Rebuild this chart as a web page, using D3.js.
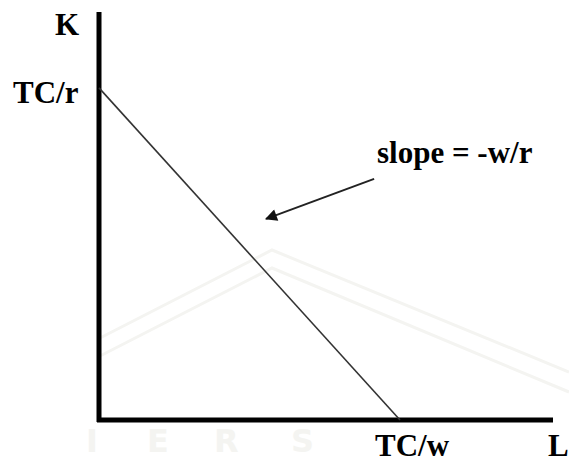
<!DOCTYPE html>
<html>
<head>
<meta charset="utf-8">
<script src="https://cdn.jsdelivr.net/npm/d3@7"></script>
<style>
  body { margin: 0; background: #fff; }
  text { font-family: "Liberation Serif", "Times New Roman", serif; font-weight: bold; fill: #000; }
</style>
</head>
<body>
<div id="chart"></div>
<script>
// isocost line: K intercept TC/r, L intercept TC/w
const axisMax = [10, 10];          // [L, K]
const intercepts = [6.63, 8.14];   // [TC/w, TC/r]
const arrowFrom = [6.06, 5.91];
const arrowTo = [3.68, 4.93];
const labels = ["K", "TC/r", "TC/w", "L", "slope = -w/r"];
const watermark = ["I", "E", "R", "S"];

const width = 569, height = 462;

const svg = d3.select("#chart")
    .append("svg")
    .attr("width", width)
    .attr("height", height);

const x = d3.scaleLinear().domain([0, axisMax[0]]).range([99, 553]);
const y = d3.scaleLinear().domain([0, axisMax[1]]).range([420, 12]);

// very faint watermark
const wm = svg.append("g").attr("fill", "none").attr("stroke", "#f4f4f1").attr("stroke-width", 3);
wm.append("path").attr("d", "M100,338 L272,250 L569,372");
wm.append("path").attr("d", "M100,356 L272,268 L569,392");
svg.append("g").selectAll("text")
    .data(watermark)
    .join("text")
    .attr("x", (d, i) => [86, 147, 214, 291][i])
    .attr("y", 452)
    .style("font-family", "'DejaVu Sans', sans-serif")
    .style("font-size", "32px")
    .style("fill", "#f4f4f1")
    .text(d => d);

// axes
svg.append("line")
    .attr("x1", x(0)).attr("y1", y(axisMax[1]))
    .attr("x2", x(0)).attr("y2", y(0) + 2)
    .attr("stroke", "#000").attr("stroke-width", 5);
svg.append("line")
    .attr("x1", x(0) - 2).attr("y1", y(0))
    .attr("x2", x(axisMax[0])).attr("y2", y(0))
    .attr("stroke", "#000").attr("stroke-width", 5);

// budget line
const line = d3.line().x(d => x(d[0])).y(d => y(d[1]));
svg.append("path")
    .attr("d", line([[0, intercepts[1]], [intercepts[0], 0]]))
    .attr("fill", "none")
    .attr("stroke", "#333")
    .attr("stroke-width", 1.6);

// arrow
svg.append("defs").append("marker")
    .attr("id", "head")
    .attr("viewBox", "0 0 10 10")
    .attr("refX", 9).attr("refY", 5)
    .attr("markerWidth", 8).attr("markerHeight", 6)
    .attr("markerUnits", "strokeWidth")
    .attr("orient", "auto")
    .append("path").attr("d", "M0,0 L10,5 L0,10 z").attr("fill", "#111");
svg.append("line")
    .attr("x1", x(arrowFrom[0])).attr("y1", y(arrowFrom[1]))
    .attr("x2", x(arrowTo[0])).attr("y2", y(arrowTo[1]))
    .attr("stroke", "#222").attr("stroke-width", 2)
    .attr("marker-end", "url(#head)");

// labels
const fs = "31px";
svg.append("text").attr("x", x(0) - 44).attr("y", 35).style("font-size", fs).text(labels[0]);
svg.append("text").attr("x", x(0) - 86).attr("y", y(intercepts[1]) + 15).style("font-size", fs).text(labels[1]);
svg.append("text").attr("x", x(intercepts[0]) - 25).attr("y", 456).style("font-size", fs).text(labels[2]);
svg.append("text").attr("x", 548).attr("y", 456).style("font-size", fs).text(labels[3]);
svg.append("text").attr("x", 377).attr("y", 163).style("font-size", fs).text(labels[4]);
</script>
</body>
</html>
